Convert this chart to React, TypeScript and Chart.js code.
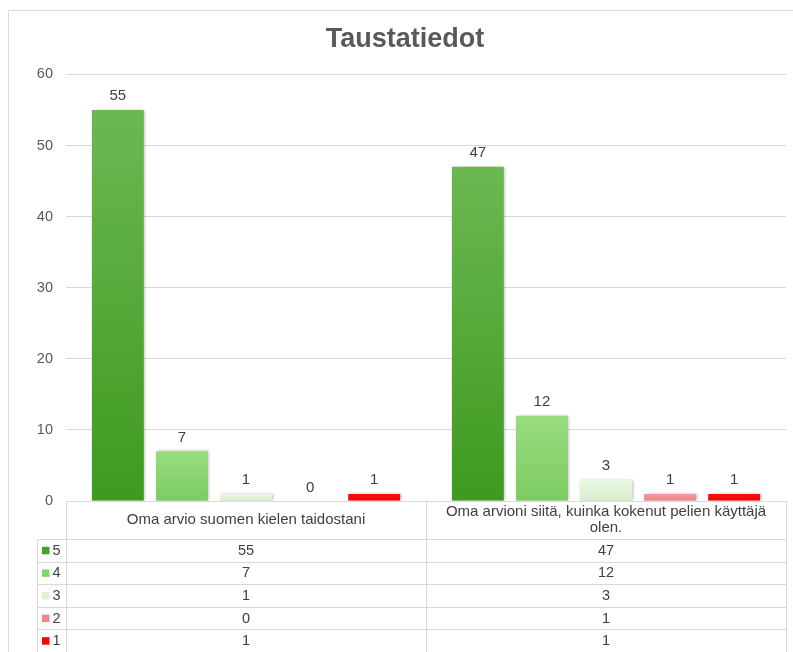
import React, { useEffect, useRef } from "react";
import { Chart, registerables } from "chart.js";

Chart.register(...registerables);

const chartTitle = "Taustatiedot";
const categories = [
  "Oma arvio suomen kielen taidostani",
  "Oma arvioni siitä, kuinka kokenut pelien käyttäjä olen.",
];
const seriesLabels = ["5", "4", "3", "2", "1"];
const values5 = [55, 47];
const values4 = [7, 12];
const values3 = [1, 3];
const values2 = [0, 1];
const values1 = [1, 1];
const seriesValues = [values5, values4, values3, values2, values1];
const yMin = 0;
const yMax = 60;
const yStep = 10;

const gradients: [string, string][] = [
  ["#6cb852", "#3d9a1f"],
  ["#98dd80", "#7ccb62"],
  ["#eaf7e5", "#d6eecc"],
  ["#f39a9a", "#ee8282"],
  ["#ff1010", "#f20000"],
];
const legendColors = ["#46a12a", "#86d46c", "#ddf1d5", "#ef8a8a", "#ff0000"];

const FONT = "'Liberation Sans', Arial, sans-serif";
const GRID = "#d9d9d9";
const TEXT = "#404040";

const frame = {
  id: "frame",
  beforeDraw(chart: any) {
    const c = chart.ctx;
    c.save();
    c.fillStyle = "#ffffff";
    c.fillRect(0, 0, chart.width, chart.height);
    c.strokeStyle = GRID;
    c.lineWidth = 1;
    c.beginPath();
    c.moveTo(8.5, chart.height);
    c.lineTo(8.5, 10.5);
    c.lineTo(chart.width, 10.5);
    c.stroke();
    c.restore();
  },
};

const shadow = {
  id: "shadow",
  beforeDatasetsDraw(chart: any) {
    const c = chart.ctx;
    c.save();
    c.shadowColor = "rgba(0,0,0,0.28)";
    c.shadowBlur = 3;
    c.shadowOffsetX = 1;
    c.shadowOffsetY = 0;
  },
  afterDatasetsDraw(chart: any) {
    chart.ctx.restore();
    const c = chart.ctx;
    c.save();
    c.font = `15px ${FONT}`;
    c.fillStyle = TEXT;
    c.textAlign = "center";
    c.textBaseline = "alphabetic";
    chart.data.datasets.forEach((ds: any, i: number) => {
      const meta = chart.getDatasetMeta(i);
      meta.data.forEach((el: any, j: number) => {
        const v = ds.data[j];
        c.fillText(String(v), el.x, el.y - 9.5);
      });
    });
    c.restore();
  },
};

function wrap(c: CanvasRenderingContext2D, text: string, maxW: number) {
  const words = text.split(" ");
  const lines: string[] = [];
  let cur = "";
  for (const w of words) {
    const t = cur ? cur + " " + w : w;
    if (c.measureText(t).width > maxW && cur) {
      lines.push(cur);
      cur = w;
    } else cur = t;
  }
  if (cur) lines.push(cur);
  return lines;
}

const table = {
  id: "table",
  afterDraw(chart: any) {
    const c = chart.ctx as CanvasRenderingContext2D;
    const { left: L, right: R, bottom: top } = chart.chartArea;
    const xs = chart.scales.x;
    const pts = categories.map((_, i) => xs.getPixelForValue(i));
    const bounds = [L];
    for (let i = 0; i < pts.length - 1; i++) bounds.push((pts[i] + pts[i + 1]) / 2);
    bounds.push(R);
    const headerH = 38;
    const rowH = 22.6;
    const legL = L - 29;
    const bottom = top + headerH + rowH * seriesLabels.length;
    c.save();
    c.strokeStyle = GRID;
    c.lineWidth = 1;
    c.beginPath();
    const px = (v: number) => Math.round(v) + 0.5;
    c.moveTo(L, px(top));
    c.lineTo(R, px(top));
    for (let r = 0; r <= seriesLabels.length; r++) {
      const y = px(top + headerH + r * rowH);
      c.moveTo(legL, y);
      c.lineTo(R, y);
    }
    bounds.forEach((b) => {
      c.moveTo(px(b), top);
      c.lineTo(px(b), bottom);
    });
    c.moveTo(px(legL), top + headerH);
    c.lineTo(px(legL), bottom);
    c.stroke();

    c.fillStyle = TEXT;
    c.textAlign = "center";
    c.textBaseline = "middle";
    c.font = `15px ${FONT}`;
    categories.forEach((cat, i) => {
      const cx = (bounds[i] + bounds[i + 1]) / 2;
      const lines = wrap(c, cat, bounds[i + 1] - bounds[i] - 12);
      const lh = 16;
      const y0 = top + headerH / 2 - ((lines.length - 1) * lh) / 2;
      lines.forEach((ln, k) => c.fillText(ln, cx, y0 + k * lh));
    });
    c.font = `14.5px ${FONT}`;
    seriesLabels.forEach((lab, r) => {
      const cy = top + headerH + r * rowH + rowH / 2;
      c.fillStyle = legendColors[r];
      c.fillRect(legL + 5, cy - 3.5, 7.5, 7.5);
      c.fillStyle = TEXT;
      c.textAlign = "left";
      c.fillText(lab, legL + 15.5, cy + 0.5);
      c.textAlign = "center";
      categories.forEach((_, i) => {
        const cx = (bounds[i] + bounds[i + 1]) / 2;
        c.fillText(String(seriesValues[r][i]), cx, cy + 0.5);
      });
    });
    c.restore();
  },
};

export default function App() {
  const ref = useRef<HTMLCanvasElement>(null);
  useEffect(() => {
    if (!ref.current) return;
    const chart = new Chart(ref.current, {
      type: "bar",
      data: {
        labels: categories,
        datasets: seriesLabels.map((lab, i) => ({
          label: lab,
          data: seriesValues[i],
          backgroundColor: (ctx: any) => {
            const ch = ctx.chart;
            const [t, b] = gradients[i];
            const ys = ch.scales?.y;
            if (!ch.chartArea || !ys || ctx.raw === undefined) return b;
            const y0 = ys.getPixelForValue(ctx.raw);
            const y1 = ys.getPixelForValue(0);
            if (!(y1 - y0 > 0.5)) return t;
            const g = ch.ctx.createLinearGradient(0, y0, 0, y1);
            g.addColorStop(0, t);
            g.addColorStop(1, b);
            return g;
          },
          borderWidth: 0,
          categoryPercentage: 0.89,
          barPercentage: 0.81,
        })),
      },
      options: {
        animation: false,
        responsive: true,
        maintainAspectRatio: false,
        layout: { padding: { top: 10, right: 7, bottom: 151, left: 24 } },
        plugins: {
          legend: { display: false },
          tooltip: { enabled: false },
          title: {
            display: true,
            text: chartTitle,
            color: "#595959",
            font: { family: FONT, size: 27, weight: "bold" },
            padding: { top: 13, bottom: 19 },
          },
        },
        scales: {
          x: { display: false, grid: { display: false } },
          y: {
            min: yMin,
            max: yMax,
            ticks: {
              stepSize: yStep,
              color: "#595959",
              font: { family: FONT, size: 14.5 },
              padding: 13,
            },
            grid: { color: GRID, drawTicks: false },
            border: { display: false },
            afterFit: (s: any) => {
              s.width = 42;
            },
          },
        },
      },
      plugins: [frame, shadow, table],
    } as any);
    return () => chart.destroy();
  }, []);
  return (
    <div style={{ position: "absolute", left: 0, top: 0, width: 793, height: 652 }}>
      <canvas ref={ref} />
    </div>
  );
}
